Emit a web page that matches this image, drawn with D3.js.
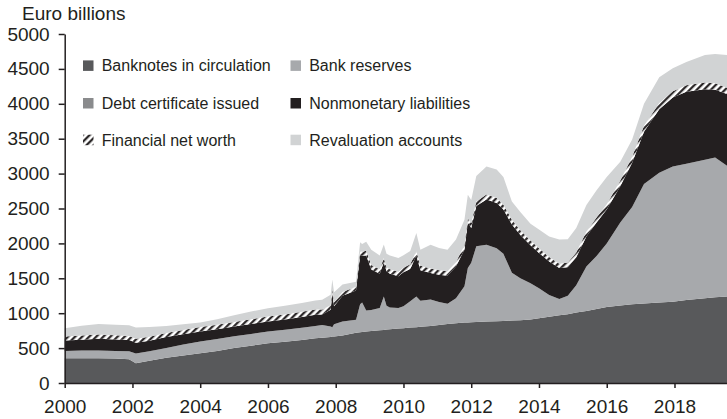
<!DOCTYPE html>
<html><head><meta charset="utf-8">
<script src="https://d3js.org/d3.v7.min.js"></script>
<style>
  body { margin: 0; background: #fff; }
  text { font-family: "Liberation Sans", Arial, sans-serif; fill: #231f20; }
</style>
</head>
<body>
<svg id="chart" width="727" height="419"></svg>
<script>

// Eurosystem liabilities, euro billions
const dates = [2000.0, 2000.5, 2001.0, 2001.5, 2001.9, 2002.1, 2002.5, 2003.0, 2003.5, 2004.0,
  2004.5, 2005.0, 2005.5, 2006.0, 2006.5, 2007.0, 2007.4, 2007.6, 2007.85, 2007.9,
  2007.95, 2008.2, 2008.6, 2008.72, 2008.78, 2008.9, 2009.05, 2009.3, 2009.42, 2009.5,
  2009.6, 2009.85, 2010.0, 2010.2, 2010.38, 2010.5, 2010.8, 2011.05, 2011.3, 2011.55,
  2011.8, 2011.9, 2012.0, 2012.15, 2012.45, 2012.75, 2012.95, 2013.2, 2013.45, 2013.75,
  2014.0, 2014.3, 2014.6, 2014.85, 2015.1, 2015.4, 2015.7, 2016.0, 2016.4, 2016.75,
  2017.1, 2017.55, 2017.95, 2018.35, 2018.9, 2019.2, 2019.55];

const banknotes = [355, 355, 355, 350, 340, 283, 320, 360, 395, 427,
  460, 500, 535, 570, 590, 615, 640, 650, 660, 665,
  665, 680, 720, 728, 732, 738, 745, 755, 760, 765,
  770, 780, 786, 795, 800, 805, 815, 830, 845, 855,
  865, 868, 872, 875, 880, 885, 890, 895, 900, 910,
  929, 950, 970, 985, 1010, 1030, 1060, 1090, 1110, 1130,
  1140, 1155, 1165, 1190, 1215, 1230, 1241];

const bankReserves = [105, 110, 110, 110, 115, 140, 135, 140, 155, 168,
  170, 170, 168, 168, 172, 175, 177, 180, 150, 135,
  175, 200, 185, 400, 420, 300, 300, 320, 480, 340,
  310, 295, 315, 375, 440, 375, 380, 330, 290, 360,
  520, 780, 850, 1085, 1100, 1045, 960, 685, 600, 520,
  430, 310, 232, 265, 390, 640, 760, 910, 1190, 1390,
  1710, 1858, 1935, 1950, 1985, 2000, 1870];

// not visible as a band anywhere in the picture
const debtCertificates = dates.map(() => 0);

const nonmonetary = [148, 155, 170, 165, 160, 155, 150, 160, 150, 144,
  140, 140, 142, 144, 148, 155, 160, 150, 240, 489,
  260, 370, 420, 700, 670, 790, 580, 490, 490, 495,
  485, 455, 485, 465, 585, 435, 380, 390, 400, 455,
  525, 650, 500, 575, 650, 650, 635, 690, 620, 545,
  505, 480, 446, 410, 400, 430, 480, 486, 520, 637,
  750, 910, 990, 1032, 1010, 970, 1028];

const netWorth = [57, 60, 60, 60, 58, 57, 58, 58, 60, 62,
  65, 65, 68, 70, 72, 75, 75, 72, 65, 55,
  60, 55, 55, 60, 60, 65, 65, 65, 60, 60,
  65, 65, 65, 65, 65, 65, 65, 65, 65, 65,
  65, 60, 65, 65, 70, 70, 70, 70, 70, 65,
  65, 65, 62, 65, 70, 70, 70, 74, 80, 83,
  85, 87, 90, 93, 95, 95, 91];

const revaluation = [120, 140, 150, 150, 155, 160, 140, 100, 80, 67,
  80, 95, 110, 120, 125, 125, 129, 140, 150, 140,
  140, 105, 70, 130, 110, 130, 220, 195, 195, 190,
  195, 195, 180, 190, 260, 230, 340, 320, 310, 320,
  365, 340, 335, 365, 400, 410, 395, 260, 260, 240,
  270, 295, 345, 335, 350, 380, 390, 390, 270, 250,
  315, 370, 330, 335, 395, 420, 469];

const tickYears = [2000, 2002, 2004, 2006, 2008, 2010, 2012, 2014, 2016, 2018];
const tickValuesY = [0, 500, 1000, 1500, 2000, 2500, 3000, 3500, 4000, 4500, 5000];

// stacking order, bottom to top
const keys = ["banknotes", "reserves", "debt", "nonmonetary", "networth", "revaluation"];
const labels = {
  banknotes: "Banknotes in circulation",
  reserves: "Bank reserves",
  debt: "Debt certificate issued",
  nonmonetary: "Nonmonetary liabilities",
  networth: "Financial net worth",
  revaluation: "Revaluation accounts"
};
const colors = {
  banknotes: "#58595b",
  reserves: "#a7a9ac",
  debt: "#8a8b8d",
  nonmonetary: "#231f20",
  networth: "url(#hatch)",
  revaluation: "#d1d3d4"
};

const table = dates.map((d, i) => ({
  date: d,
  banknotes: banknotes[i],
  reserves: bankReserves[i],
  debt: debtCertificates[i],
  nonmonetary: nonmonetary[i],
  networth: netWorth[i],
  revaluation: revaluation[i]
}));

const svg = d3.select("#chart");

// hatch for financial net worth
const pattern = svg.append("defs").append("pattern")
  .attr("id", "hatch")
  .attr("patternUnits", "userSpaceOnUse")
  .attr("width", 5).attr("height", 5)
  .attr("patternTransform", "rotate(45)");
pattern.append("rect").attr("width", 5).attr("height", 5).attr("fill", "#fff");
pattern.append("line").attr("x1", 1.2).attr("y1", 0).attr("x2", 1.2).attr("y2", 5)
  .attr("stroke", "#231f20").attr("stroke-width", 2.2);

const x = d3.scaleLinear().domain([2000, 2019.55]).range([64.7, 727]);
const y = d3.scaleLinear().domain([0, 5000]).range([383, 34]);

const series = d3.stack().keys(keys)(table);

const area = d3.area()
  .x(d => x(d.data.date))
  .y0(d => y(d[0]))
  .y1(d => y(d[1]));

svg.append("g").selectAll("path").data(series)
  .join("path")
  .attr("d", area)
  .attr("fill", d => colors[d.key]);

// axes
const xAxis = svg.append("g")
  .attr("transform", "translate(0," + y(0) + ")")
  .call(d3.axisBottom(x).tickValues(tickYears).tickFormat(d3.format("d"))
    .tickSize(5).tickSizeOuter(0).tickPadding(12));

const yAxis = svg.append("g")
  .attr("transform", "translate(" + x(2000) + ",0)")
  .call(d3.axisLeft(y).tickValues(tickValuesY).tickFormat(d3.format("d"))
    .tickSize(6).tickSizeOuter(0).tickPadding(9));

[xAxis, yAxis].forEach(g => {
  g.attr("font-size", 19).attr("font-family", null);
  g.selectAll("path, line").attr("stroke", "#231f20").attr("stroke-width", 1.5);
  g.selectAll("text").attr("fill", "#231f20");
});

svg.append("text")
  .attr("x", 22).attr("y", 20)
  .attr("font-size", 19)
  .text("Euro billions");

// legend, two columns of three
const legendItems = [
  { key: "banknotes", col: 0, row: 0 },
  { key: "debt", col: 0, row: 1 },
  { key: "networth", col: 0, row: 2 },
  { key: "reserves", col: 1, row: 0 },
  { key: "nonmonetary", col: 1, row: 1 },
  { key: "revaluation", col: 1, row: 2 }
];
const colX = [83, 290.5];
const rowY = [65.7, 103.3, 140];

const legend = svg.append("g");
legendItems.forEach(item => {
  const g = legend.append("g")
    .attr("transform", "translate(" + colX[item.col] + "," + rowY[item.row] + ")");
  g.append("rect")
    .attr("x", 0).attr("y", -5.3)
    .attr("width", 10.5).attr("height", 10.5)
    .attr("fill", colors[item.key]);
  g.append("text")
    .attr("x", 18.7).attr("dy", "0.35em")
    .attr("font-size", 16)
    .text(labels[item.key]);
});

</script>
</body>
</html>
